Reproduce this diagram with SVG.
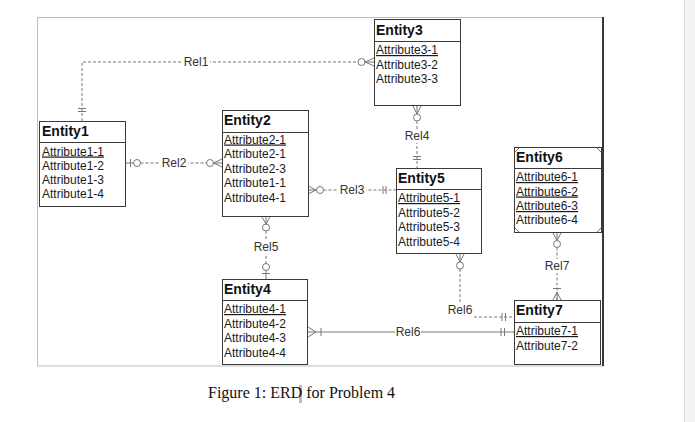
<svg xmlns="http://www.w3.org/2000/svg" width="695" height="422" viewBox="0 0 695 422">
<style>
.box{fill:#fff;stroke:#3a3a3a;stroke-width:1}
.div{stroke:#3a3a3a;stroke-width:1}
.title{font-family:"Liberation Sans",Arial,sans-serif;font-size:14px;font-weight:bold;fill:#111}
.attr{font-family:"Liberation Sans",Arial,sans-serif;font-size:12px;fill:#1a1a1a}
.u{text-decoration:underline}
.lbl{font-family:"Liberation Sans",Arial,sans-serif;font-size:12px;fill:#333;text-anchor:middle}
.dash{fill:none;stroke:#777;stroke-width:1;stroke-dasharray:3 2}
.solid{fill:none;stroke:#777;stroke-width:1}
.mk{fill:none;stroke:#777;stroke-width:1}
.circ{fill:#fff;stroke:#777;stroke-width:1}
.bg{fill:#fff}
</style>
<rect x="0" y="0" width="695" height="422" fill="#fff"/>
<rect x="684" y="0" width="11" height="422" fill="#f3f3f3"/>
<line x1="684.5" y1="0" x2="684.5" y2="422" stroke="#dcdcdc" stroke-width="1"/>
<rect x="37.5" y="17.5" width="565.5" height="348.5" fill="none" stroke="#bdbdbd" stroke-width="1"/>
<line x1="603" y1="17" x2="603" y2="366" stroke="#000" stroke-width="1.5"/>

<g id="connectors">
  <!-- Rel1 -->
  <path class="dash" d="M82,121 V62 H358"/>
  <line class="mk" x1="78" y1="108.5" x2="86" y2="108.5"/>
  <line class="mk" x1="78" y1="111.5" x2="86" y2="111.5"/>
  <circle class="circ" cx="361.5" cy="62" r="3.5"/>
  <path class="mk" d="M365,62 L374,58 M365,62 L374,62 M365,62 L374,66"/>
  <rect class="bg" x="182" y="55" width="28" height="14"/>
  <text class="lbl" x="196" y="66">Rel1</text>

  <!-- Rel2 -->
  <line class="solid" x1="126" y1="163" x2="133.5" y2="163"/>
  <line class="mk" x1="130.5" y1="159" x2="130.5" y2="167"/>
  <circle class="circ" cx="137" cy="163" r="3.5"/>
  <line class="dash" x1="140.5" y1="163" x2="206.5" y2="163"/>
  <path class="mk" d="M213.5,163 L222,159 M213.5,163 L222,163 M213.5,163 L222,167"/>
  <circle class="circ" cx="210" cy="163" r="3.5"/>
  <rect class="bg" x="160" y="156" width="28" height="14"/>
  <text class="lbl" x="174" y="167">Rel2</text>

  <!-- Rel3 -->
  <path class="mk" d="M316,190 L308,186 M316,190 L308,190 M316,190 L308,194"/>
  <circle class="circ" cx="320" cy="190" r="3.5"/>
  <line class="dash" x1="323.5" y1="190" x2="396" y2="190"/>
  <line class="mk" x1="383" y1="186" x2="383" y2="194"/>
  <line class="mk" x1="386" y1="186" x2="386" y2="194"/>
  <rect class="bg" x="338" y="183" width="28" height="14"/>
  <text class="lbl" x="352" y="194">Rel3</text>

  <!-- Rel4 -->
  <path class="mk" d="M417,114 L413,106 M417,114 L417,106 M417,114 L421,106"/>
  <circle class="circ" cx="417" cy="117.5" r="3.5"/>
  <line class="dash" x1="417" y1="121" x2="417" y2="168"/>
  <line class="mk" x1="413" y1="156.5" x2="421" y2="156.5"/>
  <line class="mk" x1="413" y1="159.5" x2="421" y2="159.5"/>
  <rect class="bg" x="403" y="129" width="28" height="14"/>
  <text class="lbl" x="417" y="140">Rel4</text>

  <!-- Rel5 -->
  <path class="mk" d="M266,224 L262,217 M266,224 L266,217 M266,224 L270,217"/>
  <circle class="circ" cx="266" cy="227.5" r="3.5"/>
  <line class="dash" x1="266" y1="231" x2="266" y2="263.5"/>
  <circle class="circ" cx="266" cy="267" r="3.5"/>
  <line class="solid" x1="266" y1="270.5" x2="266" y2="279"/>
  <line class="mk" x1="262" y1="273.5" x2="270" y2="273.5"/>
  <rect class="bg" x="252" y="240" width="28" height="14"/>
  <text class="lbl" x="266" y="251">Rel5</text>

  <!-- Rel6 (upper, dashed) -->
  <path class="mk" d="M460,262 L456,254 M460,262 L460,254 M460,262 L464,254"/>
  <circle class="circ" cx="460" cy="265.5" r="3.5"/>
  <line class="dash" x1="460" y1="269" x2="460" y2="302"/>
  <line class="dash" x1="474" y1="317" x2="514" y2="317"/>
  <line class="mk" x1="502" y1="313" x2="502" y2="321"/>
  <line class="mk" x1="505.5" y1="313" x2="505.5" y2="321"/>
  <text class="lbl" x="460" y="314">Rel6</text>

  <!-- Rel6 (lower, solid) -->
  <path class="mk" d="M316,332 L308,327 M316,332 L308,332 M316,332 L308,337"/>
  <line class="mk" x1="321" y1="328" x2="321" y2="336"/>
  <line class="solid" x1="316" y1="332" x2="514" y2="332"/>
  <line class="mk" x1="501" y1="328" x2="501" y2="336"/>
  <line class="mk" x1="504.5" y1="328" x2="504.5" y2="336"/>
  <rect class="bg" x="395" y="326" width="26" height="12"/>
  <text class="lbl" x="408" y="336">Rel6</text>

  <!-- Rel7 -->
  <path class="mk" d="M557,240.5 L553,233 M557,240.5 L557,233 M557,240.5 L561,233"/>
  <circle class="circ" cx="557" cy="244" r="3.5"/>
  <line class="dash" x1="557" y1="247.5" x2="557" y2="300"/>
  <line class="mk" x1="553" y1="288.5" x2="561" y2="288.5"/>
  <path class="mk" d="M557,292 L553,300 M557,292 L557,300 M557,292 L561,300"/>
  <rect class="bg" x="543" y="259" width="28" height="14"/>
  <text class="lbl" x="557" y="270">Rel7</text>
</g>

<g id="entity1">
  <rect class="box" x="39.5" y="121.5" width="86" height="85"/>
  <line class="div" x1="39.5" y1="142.5" x2="125.5" y2="142.5"/>
  <text class="title" x="42" y="136">Entity1</text>
  <text class="attr u" x="42" y="155.5">Attribute1-1</text>
  <text class="attr" x="42" y="169.5">Attribute1-2</text>
  <text class="attr" x="42" y="184">Attribute1-3</text>
  <text class="attr" x="42" y="198">Attribute1-4</text>
</g>

<g id="entity2">
  <rect class="box" x="222.5" y="110.5" width="86" height="106"/>
  <line class="div" x1="222.5" y1="132.5" x2="308.5" y2="132.5"/>
  <text class="title" x="224" y="125">Entity2</text>
  <text class="attr u" x="224" y="143.5">Attribute2-1</text>
  <text class="attr" x="224" y="158">Attribute2-1</text>
  <text class="attr" x="224" y="172.5">Attribute2-3</text>
  <text class="attr" x="224" y="187">Attribute1-1</text>
  <text class="attr" x="224" y="201.5">Attribute4-1</text>
</g>

<g id="entity3">
  <rect class="box" x="374.5" y="19.5" width="86" height="86"/>
  <line class="div" x1="374.5" y1="41.5" x2="460.5" y2="41.5"/>
  <text class="title" x="376" y="35">Entity3</text>
  <text class="attr u" x="376" y="54">Attribute3-1</text>
  <text class="attr" x="376" y="68.5">Attribute3-2</text>
  <text class="attr" x="376" y="83">Attribute3-3</text>
</g>

<g id="entity5">
  <rect class="box" x="396.5" y="168.5" width="85" height="85"/>
  <line class="div" x1="396.5" y1="189.5" x2="481.5" y2="189.5"/>
  <text class="title" x="398" y="183">Entity5</text>
  <text class="attr u" x="398" y="202">Attribute5-1</text>
  <text class="attr" x="398" y="216.5">Attribute5-2</text>
  <text class="attr" x="398" y="231">Attribute5-3</text>
  <text class="attr" x="398" y="245.5">Attribute5-4</text>
</g>

<g id="entity6">
  <rect class="box" x="514.5" y="147.5" width="87" height="85"/>
  <line class="div" x1="514.5" y1="168.5" x2="601.5" y2="168.5"/>
  <path class="mk" d="M515,152 L519,148 M597,148 L601,152 M515,228 L519,232 M597,232 L601,228" stroke="#555"/>
  <text class="title" x="516" y="161.5">Entity6</text>
  <text class="attr u" x="516" y="181">Attribute6-1</text>
  <text class="attr u" x="516" y="195.5">Attribute6-2</text>
  <text class="attr u" x="516" y="210">Attribute6-3</text>
  <text class="attr" x="516" y="224">Attribute6-4</text>
</g>

<g id="entity4">
  <rect class="box" x="222.5" y="279.5" width="85" height="85"/>
  <line class="div" x1="222.5" y1="300.5" x2="307.5" y2="300.5"/>
  <text class="title" x="224" y="294">Entity4</text>
  <text class="attr u" x="224" y="313">Attribute4-1</text>
  <text class="attr" x="224" y="327.5">Attribute4-2</text>
  <text class="attr" x="224" y="342">Attribute4-3</text>
  <text class="attr" x="224" y="356.5">Attribute4-4</text>
</g>

<g id="entity7">
  <rect class="box" x="514.5" y="300.5" width="86" height="64"/>
  <line class="div" x1="514.5" y1="322.5" x2="600.5" y2="322.5"/>
  <text class="title" x="516" y="315">Entity7</text>
  <text class="attr u" x="516" y="335">Attribute7-1</text>
  <text class="attr" x="516" y="350">Attribute7-2</text>
</g>

<rect x="299" y="385" width="3" height="18" fill="#bdbdbd"/>
<text x="208" y="398" font-family="'Liberation Serif','Times New Roman',serif" font-size="16" fill="#111">Figure 1: ERD for Problem 4</text>
</svg>
